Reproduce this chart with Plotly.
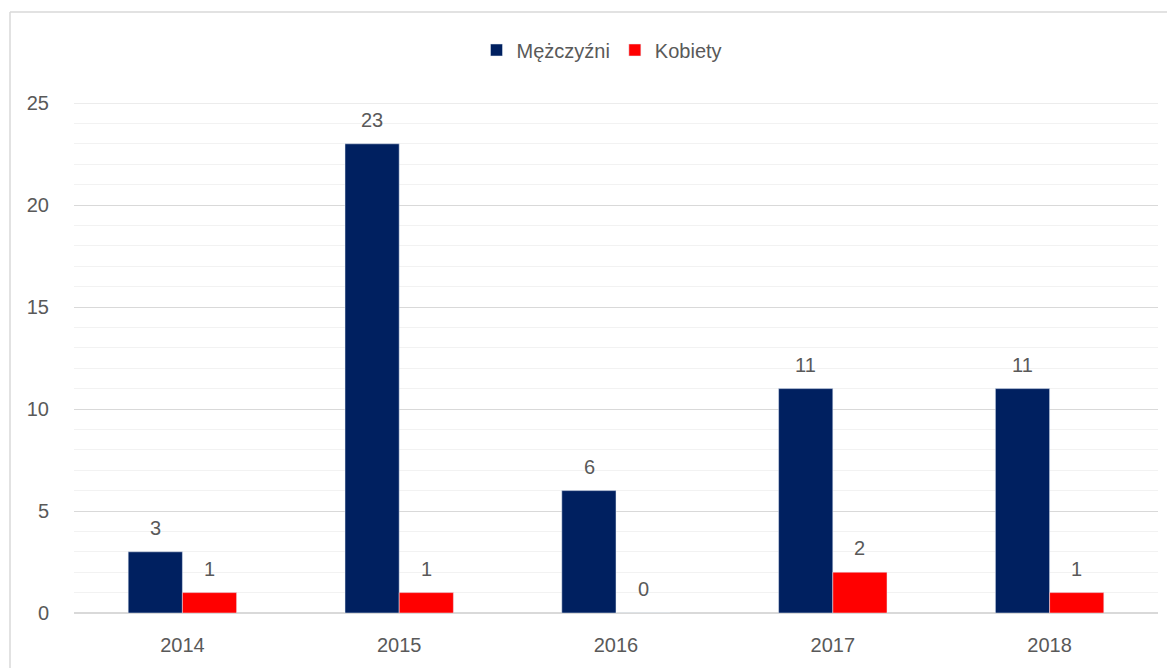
import plotly.graph_objects as go

years = ["2014", "2015", "2016", "2017", "2018"]
men = [3, 23, 6, 11, 11]
women = [1, 1, 0, 2, 1]
y_max = 25

font = "Liberation Sans, Arial, sans-serif"
gray = "#595959"
fs = 20

fig = go.Figure()
fig.add_trace(go.Bar(name="Mężczyźni", x=years, y=men, marker_color="#002060"))
fig.add_trace(go.Bar(name="Kobiety", x=years, y=women, marker_color="#FF0000"))

# body margin of 8px in the page
OFF = 8
W, H = 1175 - OFF, 668 - OFF
L, T = 74 - OFF, 103 - OFF
R = W - (1158 - OFF)
B = H - (613 - OFF)
pw, ph = W - L - R, H - T - B
bx = (10 - OFF - L) / pw
by = (H - B - (12 - OFF)) / ph
leg_y = 1.0 + (T - (50 - OFF)) / ph
leg_x = (602 - 74) / pw

annotations = []
for vals, xs in ((men, -27), (women, 27)):
    for i, v in enumerate(vals):
        # category index i on the x axis
        annotations.append(dict(x=i, y=v, xref="x", yref="y", text=str(v), showarrow=False,
                                xshift=xs, yshift=24, yanchor="middle",
                                font=dict(size=fs, color=gray, family=font)))

fig.update_layout(
    width=W, height=H,
    margin=dict(l=L, r=R, t=T, b=B, autoexpand=False),
    barmode="group", bargap=0.5, bargroupgap=0,
    plot_bgcolor="white", paper_bgcolor="white",
    font=dict(family=font, size=fs, color=gray),
    showlegend=True,
    legend=dict(orientation="h", x=leg_x, xanchor="center", y=leg_y,
                yanchor="middle", font=dict(size=fs, color=gray, family=font),
                traceorder="normal"),
    xaxis=dict(type="category", range=[-0.5, len(years) - 0.5], showline=False,
               automargin=False, ticks="outside", ticklen=14,
               tickcolor="rgba(0,0,0,0)", tickfont=dict(size=fs, color=gray)),
    yaxis=dict(range=[0, y_max], dtick=5, showgrid=True, gridcolor="#D9D9D9", gridwidth=1,
               automargin=False,
               zeroline=True, zerolinecolor="#D9D9D9", zerolinewidth=1.5,
               ticks="outside", ticklen=20, tickcolor="rgba(0,0,0,0)",
               tickfont=dict(size=fs, color=gray),
               minor=dict(dtick=1, showgrid=True, gridcolor="#F2F2F2", gridwidth=1)),
    annotations=annotations,
    shapes=[
        dict(type="line", xref="paper", yref="y", x0=0, x1=1, y0=y_max, y1=y_max,
             layer="below", line=dict(color="#D9D9D9", width=1)),
        dict(type="line", xref="paper", yref="paper", x0=bx, x1=1.2, y0=by, y1=by,
             line=dict(color="#D9D9D9", width=1.5)),
        dict(type="line", xref="paper", yref="paper", x0=bx, x1=bx, y0=by, y1=-0.2,
             line=dict(color="#D9D9D9", width=1.5)),
    ],
    hovermode=False,
)

fig.write_html("out.html")
